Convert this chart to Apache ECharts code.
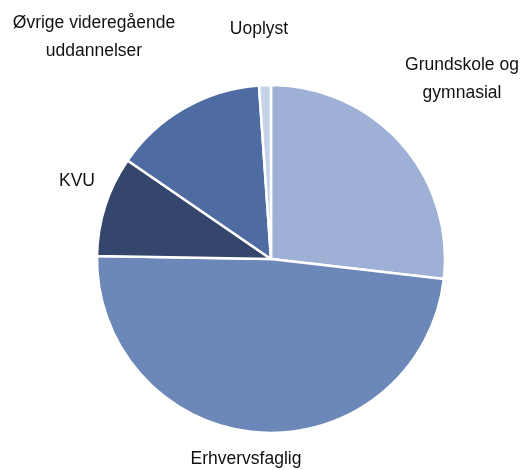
<!DOCTYPE html>
<html>
<head>
<meta charset="utf-8">
<script src="https://cdn.jsdelivr.net/npm/echarts@6/dist/echarts.min.js"></script>
<style>
  html, body { margin: 0; padding: 0; background: #fff; }
  #chart { width: 528px; height: 470px; }
</style>
</head>
<body>
<div id="chart"></div>
<script>
// shares in percent, clockwise from 12 o'clock
const categories = ['Grundskole og\ngymnasial', 'Erhvervsfaglig', 'KVU', 'Øvrige videregående\nuddannelser', 'Uoplyst']
const values = [26.8, 48.4, 9.3, 14.3, 1.1]
const colors = ['#9eb0d5', '#6b88b8', '#34466c', '#4e6ca2', '#c4d3e9']

// label centres (px)
const labelPos = [[462, 79], [246, 459], [77, 181], [94, 37], [259, 29]]

const chart = echarts.init(document.getElementById('chart'))
chart.setOption({
  animation: false,
  series: [{
    type: 'pie',
    center: [271, 259],
    radius: 174,
    startAngle: 90,
    clockwise: true,
    data: categories.map((name, i) => ({
      name: name,
      value: values[i],
      itemStyle: { color: colors[i] }
    })),
    itemStyle: { borderColor: '#fff', borderWidth: 2.5 },
    label: {
      show: true,
      position: 'outside',
      formatter: '{b}',
      fontFamily: 'Liberation Sans',
      fontSize: 17.5,
      lineHeight: 28,
      color: '#111',
      align: 'center',
      overflow: 'none',
      width: 200
    },
    labelLine: { show: false },
    labelLayout: function (p) {
      const pos = labelPos[p.dataIndex]
      return { x: pos[0], y: pos[1], align: 'center', verticalAlign: 'middle' }
    },
    emphasis: { disabled: true }
  }]
})
</script>
</body>
</html>
